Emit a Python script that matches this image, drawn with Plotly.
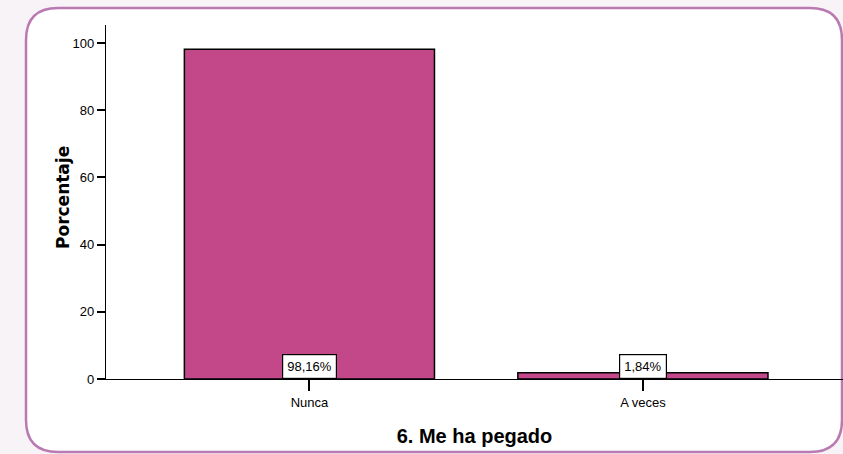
import plotly.graph_objects as go

categories = ["Nunca", "A veces"]
values = [98.16, 1.84]
value_labels = ["98,16%", "1,84%"]
y_ticks = [0, 20, 40, 60, 80, 100]

W, H = 843, 454
L, R, T, B = 106, 0, 25, 75
pw, ph = W - L - R, H - T - B

def px(x):
    return (x - L) / pw

def py(y):
    return (H - B - y) / ph

FONT = "Liberation Sans Narrow, Arial Narrow, Liberation Sans, Arial, sans-serif"

fig = go.Figure()
fig.add_trace(go.Bar(
    x=categories, y=values, width=0.75,
    marker=dict(color="#c2488a", line=dict(color="black", width=1.5)),
    showlegend=False, hoverinfo="skip",
))

for c, v, lab in zip(categories, values, value_labels):
    fig.add_annotation(
        x=c, y=0, xref="x", yref="y", text=lab, showarrow=False,
        yanchor="bottom", bgcolor="white", bordercolor="black", borderwidth=1.2,
        borderpad=4, font=dict(family=FONT, size=13, color="black"),
    )

# y-axis title
fig.add_annotation(
    x=px(63), y=py(198), xref="paper", yref="paper", text="<b>Porcentaje</b>",
    textangle=-90, showarrow=False, xanchor="center", yanchor="middle",
    font=dict(family="DejaVu Sans, Verdana, sans-serif", size=17, color="black"),
)

# rounded frame
x0, x1, y0, y1, r = 26, 842, 8, 452, 32
path = (
    f"M {px(x0 + r)} {py(y0)} L {px(x1 - r)} {py(y0)} "
    f"Q {px(x1)} {py(y0)} {px(x1)} {py(y0 + r)} "
    f"L {px(x1)} {py(y1 - r)} Q {px(x1)} {py(y1)} {px(x1 - r)} {py(y1)} "
    f"L {px(x0 + r)} {py(y1)} Q {px(x0)} {py(y1)} {px(x0)} {py(y1 - r)} "
    f"L {px(x0)} {py(y0 + r)} Q {px(x0)} {py(y0)} {px(x0 + r)} {py(y0)} Z"
)
fig.add_shape(type="path", path=path, xref="paper", yref="paper",
              fillcolor="white", line=dict(color="#b97ab2", width=2.5), layer="below")

fig.update_layout(
    width=W, height=H,
    margin=dict(l=L, r=R, t=T, b=B),
    paper_bgcolor="#f8f3f7", plot_bgcolor="rgba(0,0,0,0)",
    bargap=0.25,
    xaxis=dict(
        range=[-0.61, 1.6], showgrid=False, zeroline=False,
        showline=True, linecolor="black", linewidth=1.2,
        ticks="outside", ticklen=11, tickwidth=1.5, tickcolor="black",
        tickfont=dict(family=FONT, size=13, color="black"),
        title=dict(text="<b>6. Me ha pegado</b>", font=dict(family=FONT, size=20, color="black"), standoff=20),
    ),
    yaxis=dict(
        range=[0, 105.4], showgrid=False, zeroline=False,
        tickvals=y_ticks, showline=True, linecolor="black", linewidth=1.2,
        ticks="outside", ticklen=8, tickwidth=1.5, tickcolor="black",
        tickfont=dict(family=FONT, size=13, color="black"),
    ),
)

fig.write_html("out.html", post_script="document.body.style.margin='0';",
               config={"displayModeBar": False})
